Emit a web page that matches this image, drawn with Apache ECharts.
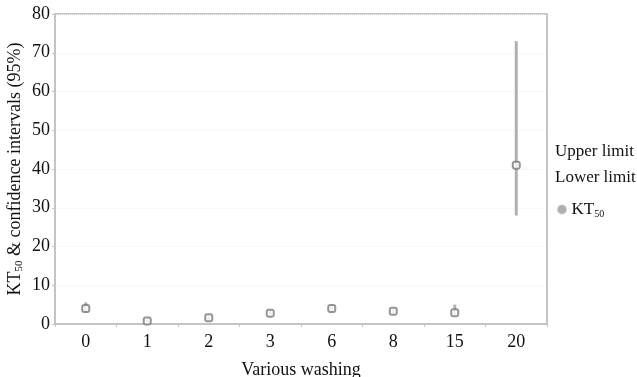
<!DOCTYPE html>
<html>
<head>
<meta charset="utf-8">
<script src="https://cdn.jsdelivr.net/npm/echarts@6/dist/echarts.min.js"></script>
<style>
  html, body { margin: 0; padding: 0; background: #ffffff; }
  #chart { width: 637px; height: 377px; }
</style>
</head>
<body>
<div id="chart"></div>
<script>
  // washing counts (categories)
  var washings = ['0', '1', '2', '3', '6', '8', '15', '20'];
  // KT50 point estimates
  var kt50 = [4.0, 0.8, 1.6, 2.8, 4.0, 3.3, 2.9, 41.0];
  // 95% confidence limits
  var upperLimit = [5.6, 1.2, 2.2, 3.6, 4.8, 3.8, 5.0, 73.0];
  var lowerLimit = [3.0, 0.5, 1.0, 2.0, 3.2, 2.8, 2.2, 28.0];
  var yTicks = [0, 10, 20, 30, 40, 50, 60, 70, 80];

  var serif = '"Liberation Serif", "DejaVu Serif", serif';
  var gray = '#c4c4c4';

  var errData = washings.map(function (w, i) {
    return [i, lowerLimit[i], upperLimit[i]];
  });

  var legendRich = {
    a: { fontFamily: serif, fontSize: 17, color: '#111' },
    b: { fontFamily: serif, fontSize: 10, color: '#111', padding: [9, 0, 0, 0] }
  };

  var chart = echarts.init(document.getElementById('chart'));
  chart.setOption({
    animation: false,
    grid: {
      left: 55, right: 90, top: 14, bottom: 53,
      outerBoundsMode: 'none',
      containLabel: false,
      show: true, borderColor: gray, borderWidth: 2
    },
    legend: [
      {
        orient: 'vertical',
        left: 545,
        top: 138,
        itemGap: 9,
        itemWidth: 0,
        itemHeight: 10,
        textStyle: { fontFamily: serif, fontSize: 17, color: '#111' },
        data: [
          { name: 'Upper limit', icon: 'none' },
          { name: 'Lower limit', icon: 'none' }
        ]
      },
      {
        orient: 'vertical',
        left: 552,
        top: 196,
        itemWidth: 9,
        itemHeight: 9,
        itemStyle: { color: '#9a9a9a', borderColor: '#c8c8c8', borderWidth: 1 },
        textStyle: { fontFamily: serif, fontSize: 17, color: '#111', rich: legendRich },
        formatter: function (name) { return '{a|KT}{b|50}'; },
        data: [{ name: 'KT50', icon: 'circle' }]
      }
    ],
    xAxis: {
      type: 'category',
      data: washings,
      boundaryGap: true,
      name: 'Various washing',
      nameLocation: 'middle',
      nameGap: 37,
      nameMoveOverlap: false,
      nameTextStyle: { fontFamily: serif, fontSize: 18, color: '#111' },
      axisLine: { lineStyle: { color: gray, width: 2 } },
      axisTick: { show: true, length: 3, lineStyle: { color: gray } },
      axisLabel: { fontFamily: serif, fontSize: 18, color: '#111', margin: 9 }
    },
    yAxis: {
      type: 'value',
      min: 0, max: 80, interval: 10,
      name: '{a|KT}{b|50}{a| & confidence intervals (95%)}',
      nameLocation: 'middle',
      nameGap: 30,
      nameMoveOverlap: false,
      nameTextStyle: {
        rich: {
          a: { fontFamily: serif, fontSize: 18, color: '#111' },
          b: { fontFamily: serif, fontSize: 11, color: '#111', padding: [9, 0, 0, 0] }
        }
      },
      axisLine: { show: true, lineStyle: { color: gray, width: 2 } },
      axisTick: { show: true, length: 3, lineStyle: { color: gray } },
      axisLabel: {
        fontFamily: serif, fontSize: 18, color: '#111', margin: 5,
        formatter: function (v) { return yTicks.indexOf(v) >= 0 ? String(v) : ''; }
      },
      splitLine: { show: true, lineStyle: { color: '#f0f0f0', type: 'dotted' } }
    },
    series: [
      {
        name: 'Upper limit',
        type: 'line',
        data: [],
        itemStyle: { color: '#ffffff' }
      },
      {
        name: 'Lower limit',
        type: 'line',
        data: [],
        itemStyle: { color: '#ffffff' }
      },
      {
        name: 'error',
        type: 'custom',
        data: errData,
        z: 2,
        renderItem: function (params, api) {
          var lo = api.coord([api.value(0), api.value(1)]);
          var hi = api.coord([api.value(0), api.value(2)]);
          return {
            type: 'line',
            shape: { x1: lo[0], y1: lo[1], x2: hi[0], y2: hi[1] },
            style: { stroke: '#b0b0b0', lineWidth: 3 }
          };
        }
      },
      {
        name: 'KT50',
        type: 'scatter',
        data: kt50,
        z: 3,
        symbol: 'roundRect',
        symbolSize: 7,
        itemStyle: { color: '#ffffff', borderColor: '#7a7a7a', borderWidth: 2 }
      }
    ]
  });
</script>
</body>
</html>
